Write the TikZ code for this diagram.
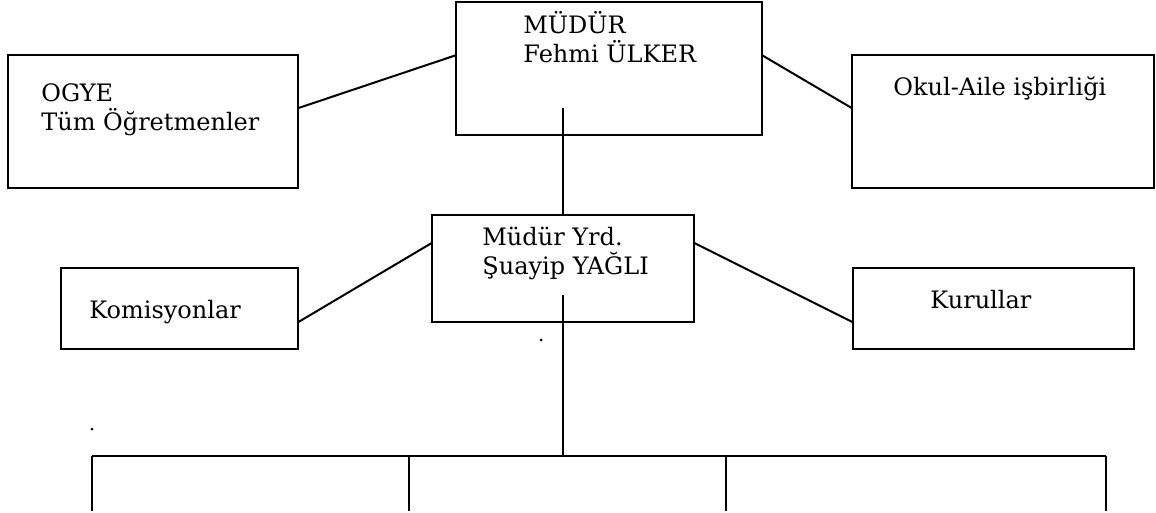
\documentclass[tikz,border=0pt]{standalone}
\usepackage{fontspec}
\setmainfont{DejaVu Serif}
\usepackage{tikz}
\usetikzlibrary{calc}
\tikzset{
	box/.style={draw, line width=1pt, inner sep=0pt, outer sep=0pt, minimum height=66.5pt},
	txt/.style={anchor=base west, inner sep=0pt, align=left, font=\fontsize{12}{14.5}\selectfont},
	wire/.style={line width=1pt}
}

\begin{document}
\begin{tikzpicture}[x=0.5pt, y=-0.5pt]
			%%%%% START %%%%%
			\useasboundingbox (0, 0) rectangle (1156, 513);
			
			\node[box, minimum width=153pt] (mudur) at (609, 68.5) {};
			\node[box, minimum width=145pt] (ogye) at (153, 121.5) {};
			\node[box, minimum width=151pt] (okul) at (1003, 121.5) {};
			
			\node[box, minimum width=131pt, minimum height=53.5pt] (yrd) at (563, 268.5) {};
			\node[box, minimum width=118.5pt, minimum height=40.5pt] (komis) at (179.5, 308.5) {};
			\node[box, minimum width=140.5pt, minimum height=40.5pt] (kurul) at (993.5, 308.5) {};
			
			% iki satirlik yazilar: taban cizgisi alt satirda
			\node[txt] (mudurT) at (523, 63) {MÜDÜR\\Fehmi ÜLKER};
			\node[txt] (ogyeT) at (41, 131) {OGYE\\Tüm Öğretmenler};
			\node[txt] (okulT) at (893, 96) {Okul-Aile işbirliği};
			\node[txt] (yrdT) at (482, 275) {Müdür Yrd.\\Şuayip YAĞLI};
			\node[txt] (komisT) at (89, 318) {Komisyonlar};
			\node[txt] (kurulT) at (930, 308) {Kurullar};
			
			\draw[wire] ($(ogye.north east)!0.4!(ogye.south east)$) -- ($(mudur.north west)!0.4!(mudur.south west)$);
			\draw[wire] ($(mudur.north east)!0.4!(mudur.south east)$) -- ($(okul.north west)!0.4!(okul.south west)$);
			\draw[wire] (yrd.north |- {$(mudur.north)!0.8!(mudur.south)$}) -- (yrd.north);
			
			\draw[wire] ($(komis.north east)!0.67!(komis.south east)$) -- ($(yrd.north west)!0.26!(yrd.south west)$);
			\draw[wire] ($(yrd.north east)!0.26!(yrd.south east)$) -- ($(kurul.north west)!0.67!(kurul.south west)$);
			
			% alt birimler
			\coordinate (bus) at (563, 456);
			\draw[wire] (yrd.north |- {$(yrd.north)!0.75!(yrd.south)$}) -- (bus);
			\draw[wire] (92, 456) -- (1106, 456);
			\foreach \dx in {92, 409, 726, 1106}
				\draw[wire] (\dx, 456) -- (\dx, 511);
			
			\fill (92, 429) circle (1.5);
			\fill (541, 340) circle (1.5);
			%%%%% END %%%%%
\end{tikzpicture}
\end{document}
